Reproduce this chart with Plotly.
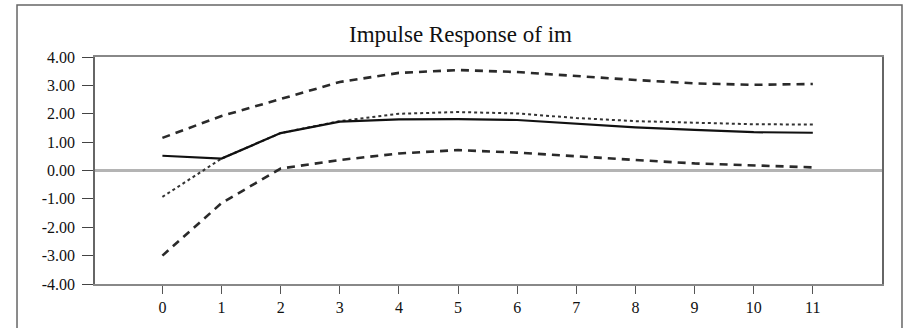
import plotly.graph_objects as go

periods = list(range(12))
response = [0.52, 0.42, 1.32, 1.72, 1.80, 1.81, 1.78, 1.64, 1.52, 1.43, 1.35, 1.33]
accumulated = [-0.93, 0.42, 1.32, 1.74, 2.00, 2.06, 2.01, 1.85, 1.74, 1.68, 1.63, 1.62]
upper_band = [1.15, 1.92, 2.52, 3.12, 3.44, 3.54, 3.47, 3.32, 3.19, 3.07, 3.02, 3.05]
lower_band = [-3.00, -1.15, 0.07, 0.37, 0.60, 0.72, 0.63, 0.49, 0.37, 0.25, 0.19, 0.11]
y_ticks = [-4, -3, -2, -1, 0, 1, 2, 3, 4]
y_tick_labels = [f"{v:.2f}" for v in y_ticks]
title_text = "Impulse Response of im"

fig = go.Figure()
fig.add_trace(go.Scatter(x=periods, y=upper_band, mode="lines",
                         line=dict(color="#2a2a2a", width=2.6, dash="8px,6px"), showlegend=False))
fig.add_trace(go.Scatter(x=periods, y=lower_band, mode="lines",
                         line=dict(color="#2a2a2a", width=2.6, dash="8px,6px"), showlegend=False))
fig.add_trace(go.Scatter(x=periods, y=accumulated, mode="lines",
                         line=dict(color="#333333", width=2, dash="dot"), showlegend=False))
fig.add_trace(go.Scatter(x=periods, y=response, mode="lines",
                         line=dict(color="#111111", width=2.2), showlegend=False))

font_family = "Liberation Serif, Times New Roman, serif"
tick_font = dict(family=font_family, size=16, color="#111111")

fig.update_layout(
    width=908, height=328,
    margin=dict(l=95, r=26, t=57, b=44),
    paper_bgcolor="white", plot_bgcolor="white",
    font=dict(family=font_family, size=16, color="#111111"),
    xaxis=dict(range=[-1.14, 12.17], tickvals=periods, ticks="outside", ticklen=8,
               tickcolor="#555555", showline=True, linecolor="#888888", linewidth=1.5,
               mirror=True, showgrid=False, zeroline=False, tickfont=tick_font),
    yaxis=dict(range=[-4, 4], tickvals=y_ticks, ticktext=y_tick_labels, ticks="outside",
               ticklen=11, tickcolor="#444444", showline=True, linecolor="#666666",
               linewidth=1.5, mirror=True, showgrid=False, ticklabelstandoff=4,
               zeroline=True, zerolinecolor="#b4b4b4", zerolinewidth=3,
               tickfont=tick_font),
    shapes=[dict(type="rect", xref="paper", yref="paper",
                 x0=-0.0991, x1=1.0254, y0=-0.3, y1=1.229,
                 line=dict(color="#666666", width=1.5), fillcolor="rgba(0,0,0,0)",
                 layer="below")],
    annotations=[dict(text=title_text, xref="paper", yref="paper", x=0.4638, y=1.10,
                      xanchor="center", yanchor="middle", showarrow=False,
                      font=dict(family=font_family, size=23, color="#111111"))],
)

fig.write_html("out.html")
